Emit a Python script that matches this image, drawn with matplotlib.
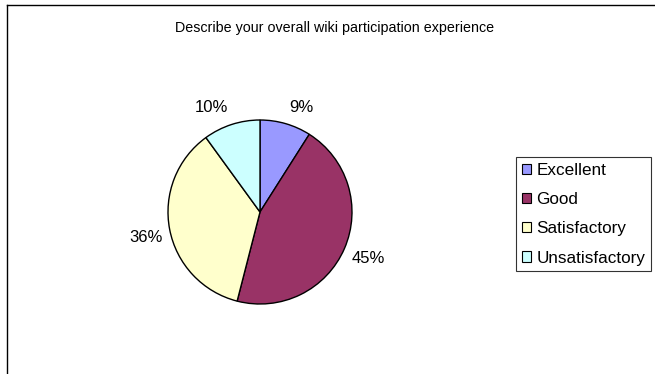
import matplotlib
matplotlib.use("Agg")
import matplotlib.pyplot as plt
from matplotlib.lines import Line2D

categories = ["Excellent", "Good", "Satisfactory", "Unsatisfactory"]
values = [9, 45, 36, 10]
pct_labels = ["9%", "45%", "36%", "10%"]
colors = ["#9999FF", "#993366", "#FFFFCC", "#CCFFFF"]
title = "Describe your overall wiki participation experience"

# label centre offsets from the pie centre, in pixels (layout only)
label_offsets_px = [(41.5, 105), (108, -46.5), (-114, -25), (-49, 105)]

plt.rcParams['font.family'] = ['Liberation Sans', 'DejaVu Sans']

W, H = 655, 374
fig = plt.figure(figsize=(W / 100, H / 100), dpi=100)

# pie axes: center (260,212) px, radius 92 px
cx, cy, r = 260, 212, 92
half = 130
ax = fig.add_axes([(cx - half) / W, (H - cy - half) / H, 2 * half / W, 2 * half / H])
wedges, texts = ax.pie(values, labels=pct_labels, colors=colors, startangle=90,
                       counterclock=False, labeldistance=1.26,
                       wedgeprops=dict(edgecolor="black", linewidth=1.0),
                       textprops=dict(ha="center", va="center", fontsize=12))
for t, (dx, dy) in zip(texts, label_offsets_px):
    t.set_position((dx / r, dy / r))
ax.set_xlim(-half / r, half / r)
ax.set_ylim(-half / r, half / r)
ax.set_aspect("equal")
ax.axis("off")

fig.text(335 / W, 1 - 28 / H, title, ha="center", va="center", fontsize=10.3)

leg = fig.legend(wedges, categories, loc="upper left",
                 bbox_to_anchor=(516 / W, 1 - 157 / H), frameon=True,
                 fancybox=False, edgecolor="black", fontsize=12.3,
                 handlelength=0.55, handleheight=0.55, handletextpad=0.3,
                 labelspacing=0.83, borderpad=0.35, borderaxespad=0)
leg.get_frame().set_linewidth(0.8)
for h in leg.legend_handles:
    h.set_linewidth(0.8)

# outer chart border (left and top)
fig.add_artist(Line2D([6.5 / W, 6.5 / W], [0, 1 - 4.5 / H], transform=fig.transFigure,
                      color="black", linewidth=1.0))
fig.add_artist(Line2D([6.5 / W, 1], [1 - 4.5 / H, 1 - 4.5 / H], transform=fig.transFigure,
                      color="black", linewidth=1.0))

fig.savefig("out.png", dpi=100)
